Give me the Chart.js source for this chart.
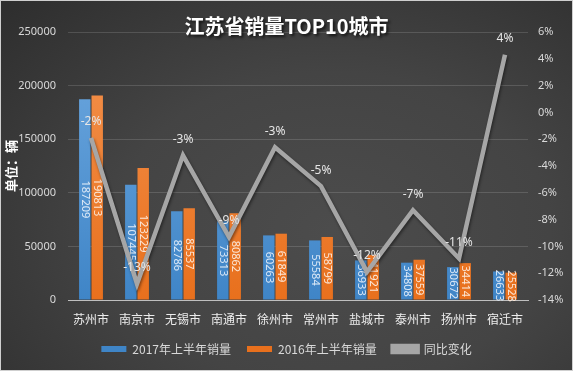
<!DOCTYPE html>
<html>
<head>
<meta charset="utf-8">
<script src="https://cdn.jsdelivr.net/npm/chart.js@4.4.0/dist/chart.umd.min.js"></script>
<style>
html, body { margin: 0; padding: 0; }
body { width: 573px; height: 371px; overflow: hidden; }
#wrap {
    width: 573px; height: 371px; box-sizing: border-box;
    border: 1px solid #cfcfcf;
    background: radial-gradient(ellipse 85% 95% at 58% 62%, #4c4c4c 0%, #444 45%, #2b2b2b 100%);
}
canvas { display: block; }
</style>
</head>
<body>
<div id="wrap"><canvas id="salesChart" width="571" height="369"></canvas></div>
<script>
const cities = ['苏州市', '南京市', '无锡市', '南通市', '徐州市', '常州市', '盐城市', '泰州市', '扬州市', '宿迁市'];
const sales2017 = [187209, 107445, 82786, 73313, 60263, 55584, 36933, 34808, 30672, 26633];
const sales2016 = [190813, 123229, 85537, 80862, 61849, 58799, 41921, 37559, 34414, 25528];
const change = [-1.9, -12.8, -3.2, -9.3, -2.6, -5.5, -11.9, -7.3, -10.9, 4.3];

const FONT = '"Noto Sans CJK SC", "Noto Sans", sans-serif';

function barGradient(top, bottom) {
    return function (context) {
        const area = context.chart.chartArea;
        if (!area) return bottom;
        const g = context.chart.ctx.createLinearGradient(0, area.top, 0, area.bottom);
        g.addColorStop(0, top);
        g.addColorStop(1, bottom);
        return g;
    };
}

const labelPlugin = {
    id: 'valueLabels',
    beforeDatasetDraw(chart, args) {
        if (args.meta.type === 'line') {
            const ctx = chart.ctx;
            ctx.save();
            ctx.shadowColor = 'rgba(0,0,0,0.45)';
            ctx.shadowBlur = 3;
            ctx.shadowOffsetX = 1;
            ctx.shadowOffsetY = 2;
        }
    },
    afterDatasetDraw(chart, args) {
        const ctx = chart.ctx;
        const meta = args.meta;
        const ds = chart.data.datasets[args.index];
        if (meta.type === 'line') ctx.restore();
        ctx.save();
        ctx.textAlign = 'center';
        ctx.textBaseline = 'middle';
        if (meta.type === 'bar') {
            ctx.font = '11px "Noto Sans", sans-serif';
            ctx.fillStyle = ds.labelColor;
            meta.data.forEach((bar, i) => {
                ctx.save();
                ctx.translate(bar.x, (bar.y + bar.base) / 2);
                ctx.rotate(Math.PI / 2);
                ctx.fillText(ds.data[i], 0, 0);
                ctx.restore();
            });
        } else {
            ctx.font = '12px "Noto Sans", sans-serif';
            ctx.fillStyle = '#e6e6e6';
            meta.data.forEach((pt, i) => {
                ctx.fillText(Math.round(ds.data[i]) + '%', pt.x, pt.y - 16);
            });
        }
        ctx.restore();
    },
    afterDraw(chart) {
        const ctx = chart.ctx;
        ctx.save();
        ctx.font = 'bold 20px ' + FONT;
        ctx.textAlign = 'center';
        ctx.textBaseline = 'middle';
        ctx.shadowColor = 'rgba(0,0,0,0.7)';
        ctx.shadowBlur = 3;
        ctx.shadowOffsetX = 2;
        ctx.shadowOffsetY = 2;
        ctx.fillStyle = '#ffffff';
        ctx.fillText('江苏省销量TOP10城市', chart.width / 2, 25);
        ctx.restore();
    }
};

new Chart(document.getElementById('salesChart'), {
    type: 'bar',
    data: {
        labels: cities,
        datasets: [{
            label: '2017年上半年销量',
            data: sales2017,
            backgroundColor: barGradient('#6fa9e0', '#3f85c7'),
            labelColor: '#dce9f7',
            yAxisID: 'y',
            order: 1,
            barPercentage: 0.92,
            categoryPercentage: 0.54
        }, {
            label: '2016年上半年销量',
            data: sales2016,
            backgroundColor: barGradient('#f4934f', '#e8701d'),
            labelColor: '#fbe6d6',
            yAxisID: 'y',
            order: 1,
            barPercentage: 0.92,
            categoryPercentage: 0.54
        }, {
            type: 'line',
            label: '同比变化',
            data: change,
            borderColor: '#a6a6a6',
            backgroundColor: '#a6a6a6',
            borderWidth: 4.5,
            pointRadius: 0,
            tension: 0,
            yAxisID: 'y1',
            order: 0
        }]
    },
    options: {
        responsive: false,
        animation: false,
        layout: { padding: { top: 31, bottom: 5, left: 0, right: 0 } },
        plugins: {
            legend: {
                position: 'bottom',
                labels: {
                    color: '#d9d9d9',
                    font: { size: 12, family: FONT },
                    boxWidth: 25,
                    boxHeight: 6,
                    padding: 16,
                    sort: (a, b) => a.datasetIndex - b.datasetIndex
                }
            },
            tooltip: { enabled: false }
        },
        scales: {
            x: {
                grid: { display: false, drawTicks: false },
                border: { color: '#bfbfbf', width: 1 },
                ticks: { color: '#ededed', font: { size: 12, family: FONT }, padding: 12 },
                afterFit: scale => { scale.height = 27; }
            },
            y: {
                position: 'left',
                min: 0,
                max: 250000,
                ticks: {
                    stepSize: 50000,
                    autoSkip: false,
                    color: '#d9d9d9',
                    font: { size: 11, family: '"Noto Sans", sans-serif' },
                    padding: 12,
                    format: { useGrouping: false }
                },
                grid: { color: 'rgba(255,255,255,0.14)', drawTicks: false },
                border: { display: false },
                title: {
                    display: true,
                    text: '单位：辆',
                    color: '#ffffff',
                    font: { size: 13, weight: 'bold', family: FONT },
                    padding: { top: 2, bottom: 2 }
                },
                afterFit: scale => { scale.width = 67; }
            },
            y1: {
                position: 'right',
                min: -14,
                max: 6,
                ticks: {
                    stepSize: 2,
                    autoSkip: false,
                    color: '#d9d9d9',
                    font: { size: 11, family: '"Noto Sans", sans-serif' },
                    padding: 10,
                    callback: value => value + '%'
                },
                grid: { display: false, drawTicks: false },
                border: { display: false },
                afterFit: scale => { scale.width = 44; }
            }
        }
    },
    plugins: [labelPlugin]
});
</script>
</body>
</html>
